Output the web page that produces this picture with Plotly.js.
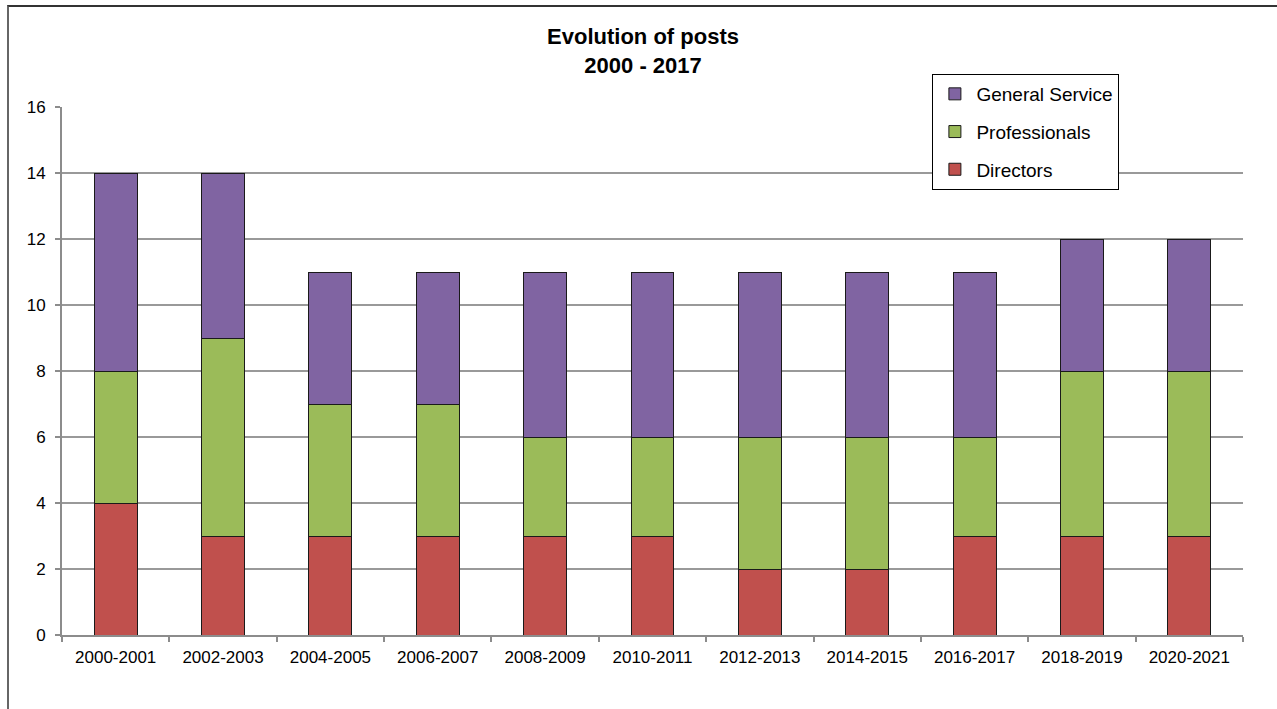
<!DOCTYPE html>
<html>
<head>
<meta charset="utf-8">
<script src="https://cdn.plot.ly/plotly-3.0.1.min.js"></script>
<style>
  html, body { margin: 0; padding: 0; background: #fff; }
  #frame { position: absolute; left: 7px; top: 5px; width: 1280px; height: 720px; border-left: 2px solid #666; border-top: 2px solid #333; box-sizing: border-box; }
  #chart { position: absolute; left: 0; top: 0; width: 1277px; height: 709px; }
</style>
</head>
<body>
<div id="frame"></div>
<div id="chart"></div>
<script>
const categories = ["2000-2001","2002-2003","2004-2005","2006-2007","2008-2009","2010-2011","2012-2013","2014-2015","2016-2017","2018-2019","2020-2021"];
const directors = [4,3,3,3,3,3,2,2,3,3,3];
const professionals = [4,6,4,4,3,3,4,4,3,5,5];
const generalService = [6,5,4,4,5,5,5,5,5,4,4];
const yTicks = [0,2,4,6,8,10,12,14,16];

const line = {color: '#1a1a1a', width: 1};
const traces = [
  {type:'bar', name:'Directors', x:categories, y:directors, legendgroup:'d', legendrank:3, marker:{color:'#C0504D', line:line}},
  {type:'bar', name:'Professionals', x:categories, y:professionals, legendgroup:'p', legendrank:2, marker:{color:'#9BBB59', line:line}},
  {type:'bar', name:'General Service', x:categories, y:generalService, legendgroup:'g', legendrank:1, marker:{color:'#8064A2', line:line}}
];

const layout = {
  width: 1277, height: 709,
  paper_bgcolor: 'rgba(0,0,0,0)', plot_bgcolor: 'rgba(0,0,0,0)',
  margin: {l: 62, r: 34, t: 107, b: 74},
  barmode: 'stack', bargap: 0.6,
  font: {family: 'Liberation Sans, Arial, sans-serif', color: '#000', size: 17},
  title: {text: '<b>Evolution of posts<br>2000 - 2017</b>', font: {size: 22, color: '#000'}, x: 0.492, xref: 'paper', xanchor: 'center', yref: 'container', y: 0.938, yanchor: 'top'},
  xaxis: {showline: true, linecolor: '#8c8c8c', linewidth: 2, ticks: 'outside', tickson: 'boundaries', ticklen: 5, tickcolor: '#8c8c8c', tickwidth: 2, tickfont: {size: 17}, ticklabelstandoff: 6, showgrid: false, fixedrange: true},
  yaxis: {range: [0,16], tickvals: yTicks, ticktext: yTicks.map(String), showline: true, linecolor: '#8c8c8c', linewidth: 2, ticks: 'outside', ticklen: 5, tickcolor: '#8c8c8c', tickwidth: 2, gridcolor: '#999999', gridwidth: 1.5, zeroline: false, tickfont: {size: 17}, ticklabelstandoff: 6, fixedrange: true},
  legend: {x: 0.737, xanchor: 'left', y: 1.0625, yanchor: 'top', bordercolor: '#000', borderwidth: 1, bgcolor: '#fff', traceorder: 'grouped', tracegroupgap: 10, font: {size: 19}, itemwidth: 33, entrywidth: 205, entrywidthmode: 'pixels'}
};

Plotly.newPlot('chart', traces, layout, {displayModeBar: false, staticPlot: true});
</script>
</body>
</html>
